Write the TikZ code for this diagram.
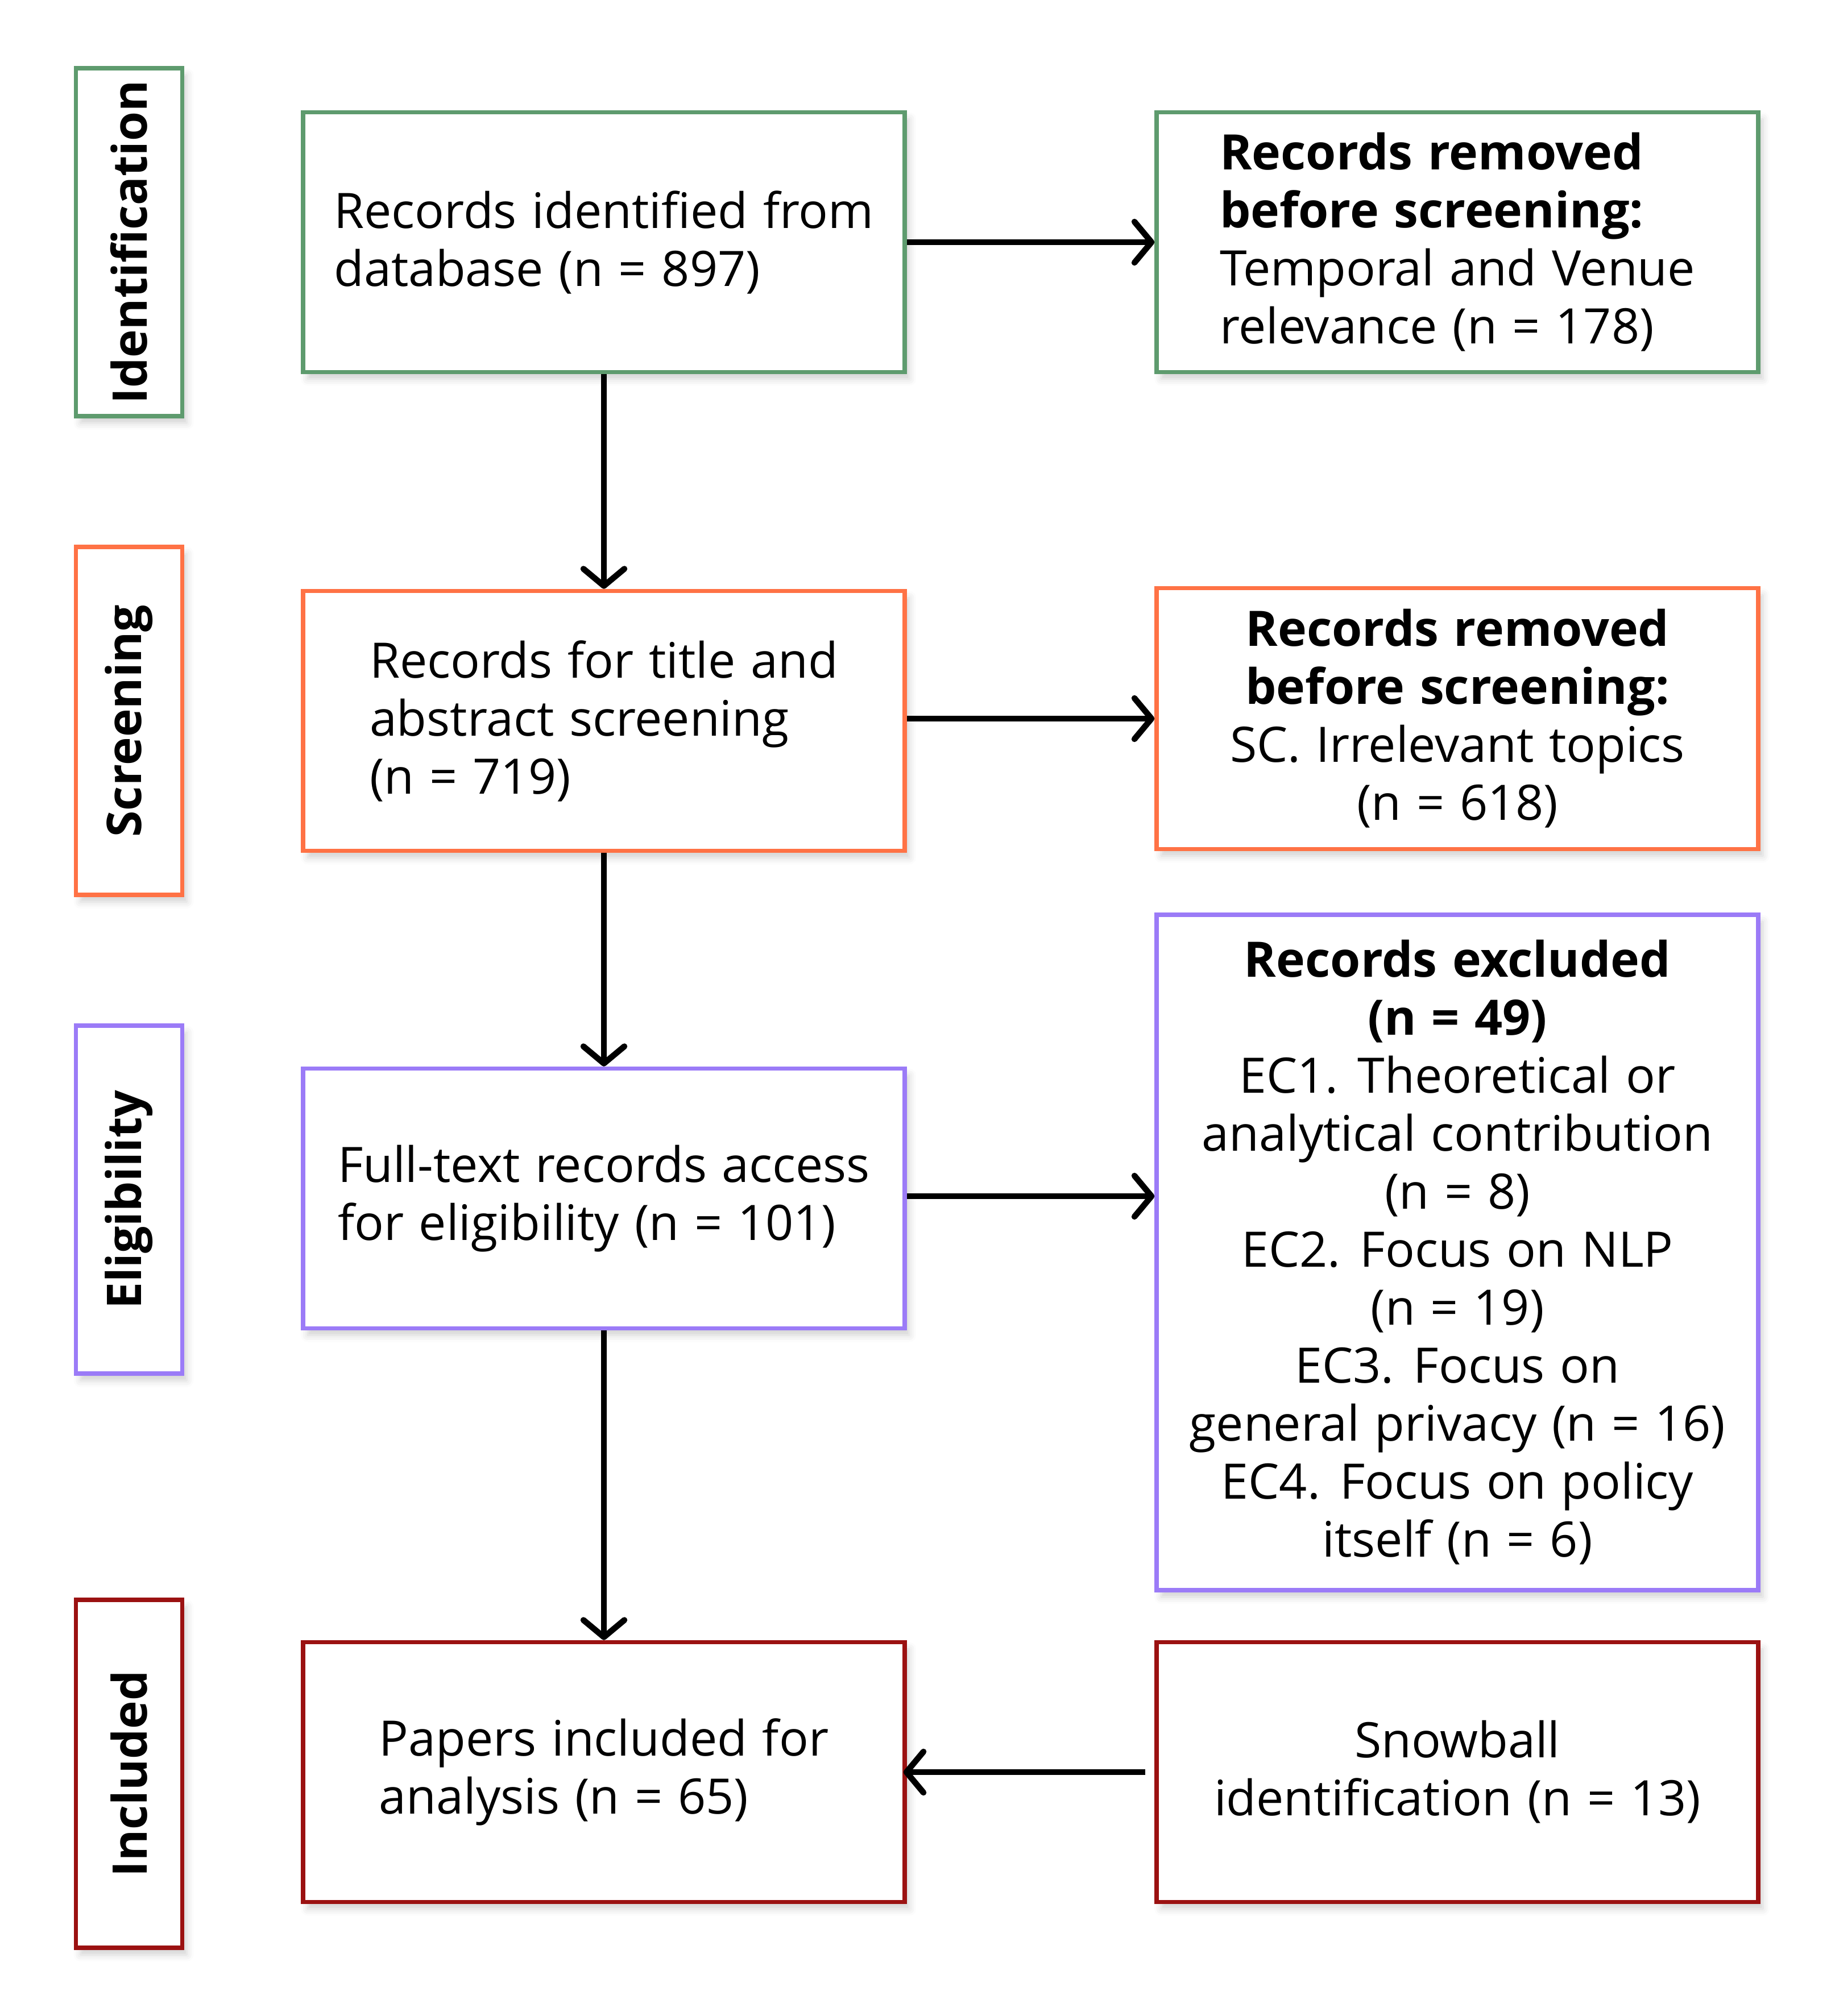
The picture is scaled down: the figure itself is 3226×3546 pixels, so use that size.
\documentclass[tikz,border=0pt]{standalone}
\usepackage{fontspec}
\setmainfont{Open Sans}[WordSpace=1.2]
\usetikzlibrary{arrows.meta,shadows.blur}
\definecolor{cgreen}{HTML}{5E9B6E}
\definecolor{corange}{HTML}{FF7245}
\definecolor{cpurple}{HTML}{9B7BF7}
\definecolor{cred}{HTML}{9B1111}
\begin{document}
\begin{tikzpicture}[x=1pt,y=-1pt,
  shd/.style={blur shadow={shadow xshift=8pt, shadow yshift=-12pt, shadow blur radius=12pt, shadow opacity=18}},
  box/.style={draw=#1, line width=7.5pt, fill=white, minimum width=1058pt, minimum height=457pt, inner sep=0pt, shd, font=\fontsize{86}{102}\selectfont},
  phase/.style={draw=#1, line width=7.5pt, fill=white, rotate=90, minimum width=612pt, minimum height=187pt, inner sep=0pt, shd, font=\fontsize{84}{102}\selectfont\bfseries},
  arr/.style={line width=10.5pt, -{Straight Barb[length=30pt,width=72pt,round]}}
]
\useasboundingbox (0,0) rectangle (3226,3546);
% phase labels
\node[phase=cgreen] (pid) at (227,426) {Identification};
\node[phase=corange] (psc) at (227,1268) {Screening};
\node[phase=cpurple] (pel) at (227,2110) {Eligibility};
\node[phase=cred] (pin) at (227,3120) {Included};
% left boxes
\node[box=cgreen, align=left] (b1) at (1062,426) {Records identified from\\database (n = 897)};
\node[box=corange, align=left] (b2) at (1062,1268) {Records for title and\\abstract screening\\(n = 719)};
\node[box=cpurple, align=left] (b3) at (1062,2108) {Full-text records access\\for eligibility (n = 101)};
\node[box=cred, align=left] (b4) at (1062,3117) {Papers included for\\analysis (n = 65)};
% right boxes
\node[box=cgreen, align=left] (r1) at (2563,426) {\textbf{Records removed}\\\textbf{before screening:}\\Temporal and Venue\\relevance (n = 178)};
\node[box=corange, align=center, minimum height=459pt] (r2) at (2563,1264) {\textbf{Records removed}\\\textbf{before screening:}\\SC. Irrelevant topics\\(n = 618)};
\node[box=cpurple, align=center, minimum height=1188pt] (r3) at (2563,2203) {\textbf{Records excluded}\\\textbf{(n = 49)}\\EC1. Theoretical or\\analytical contribution\\(n = 8)\\EC2. Focus on NLP\\(n = 19)\\EC3. Focus on\\general privacy (n = 16)\\EC4. Focus on policy\\itself (n = 6)};
\node[box=cred, align=center] (r4) at (2563,3117) {Snowball\\identification (n = 13)};
% connectors
\draw[arr] (b1.south) -- (b2.north);
\draw[arr] (b2.south) -- (b3.north);
\draw[arr] (b3.south) -- (b4.north);
\draw[arr] (b1.east) -- (r1.west);
\draw[arr] ([yshift=4pt]b2.east) -- ([yshift=4pt]b2.east -| r2.west);
\draw[arr] ([yshift=4pt]b3.east) -- ([yshift=4pt]b3.east -| r3.west);
\draw[arr, shorten <=16pt, shorten >=-6pt] (r4.west) -- (b4.east);
\end{tikzpicture}
\end{document}
